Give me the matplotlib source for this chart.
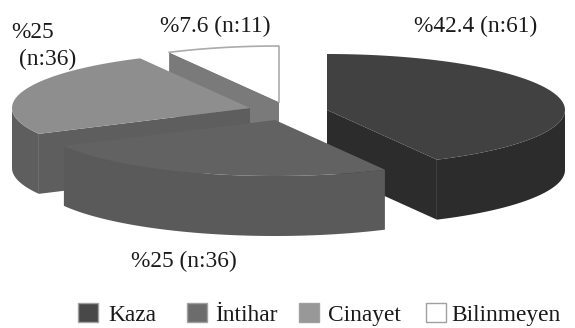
import numpy as np
import matplotlib
matplotlib.use('Agg')
import matplotlib.pyplot as plt

### DATA
categories = ['Kaza', 'İntihar', 'Cinayet', 'Bilinmeyen']
counts = [61, 36, 36, 11]
slice_labels = ['%42.4 (n:61)', '%25 (n:36)', '%25', '(n:36)', '%7.6 (n:11)']

### STYLE
top_colors = ['#414141', '#626262', '#8e8e8e', '#ffffff']
side_colors = ['#2c2c2c', '#5a5a5a', '#5e5e5e', '#7a7a7a']
legend_colors = ['#484848', '#6c6c6c', '#989898', '#ffffff']
apex = [(327, 110), (275, 120), (250, 108), (279, 102)]  # exploded slice centres, in pixels
rx, ry, depth = 238, 56, 60

plt.rcParams['font.family'] = ['Liberation Serif', 'DejaVu Serif']

fig = plt.figure(figsize=(5.75, 3.28), dpi=100)
ax = fig.add_axes([0, 0, 1, 1])
ax.set_xlim(0, 575)
ax.set_ylim(328, 0)
ax.axis('off')

### SLICE ANGLES, CLOCKWISE FROM THE TOP
share = np.array(counts) / sum(counts) * 360
ends = 90 - np.cumsum(share)
starts = ends + share

def rim(i, a, b, n=80):
    t = np.radians(np.linspace(a, b, n))
    return apex[i][0] + rx * np.cos(t), apex[i][1] - ry * np.sin(t)

def draw_slice(i, cut=None):
    cx, cy = apex[i]
    start, end = starts[i], ends[i]
    # cut face that looks at the viewer
    if cut is not None:
        px, py = rim(i, cut, cut, 1)
        ax.fill([cx, px[0], px[0], cx], [cy, py[0], py[0] + depth, cy + depth], color=side_colors[i], lw=0)
    # outer wall, only the front part of the rim
    t = np.linspace(start, end, 200)
    t = t[np.sin(np.radians(t)) <= 0]
    if len(t):
        x, y = rim(i, t[0], t[-1])
        ax.fill(np.r_[x, x[::-1]], np.r_[y, y[::-1] + depth], color=side_colors[i], lw=0)
    # top face
    x, y = rim(i, start, end)
    ax.fill(np.r_[cx, x], np.r_[cy, y], facecolor=top_colors[i], lw=0)

# back to front, later slices cover earlier ones
draw_slice(3, cut=starts[3])
x, y = rim(3, starts[3], ends[3])
ax.plot(np.r_[x, apex[3][0]], np.r_[y, apex[3][1]], color='#ababab', lw=1.2)  # white slice has an outline
draw_slice(2, cut=starts[2])
draw_slice(0, cut=ends[0])
draw_slice(1)

### LABELS
fs = 16.8
ink = '#1a1a1a'
ax.text(414, 32, slice_labels[0], fontsize=fs, color=ink)
ax.text(131, 267, slice_labels[1], fontsize=fs, color=ink)
ax.text(11, 38, slice_labels[2], fontsize=fs, color=ink)
ax.text(19, 65, slice_labels[3], fontsize=fs, color=ink)
ax.text(160, 32, slice_labels[4], fontsize=fs, color=ink)

### LEGEND
box_x = [78, 187, 299, 426]
text_x = [108, 215, 328, 451]
for i in range(4):
    ax.add_patch(plt.Rectangle((box_x[i], 303), 20, 19, facecolor=legend_colors[i], edgecolor='#a0a0a0', lw=1))
    ax.text(text_x[i], 321, categories[i], fontsize=fs, color=ink)

plt.savefig('out.png', dpi=100)
